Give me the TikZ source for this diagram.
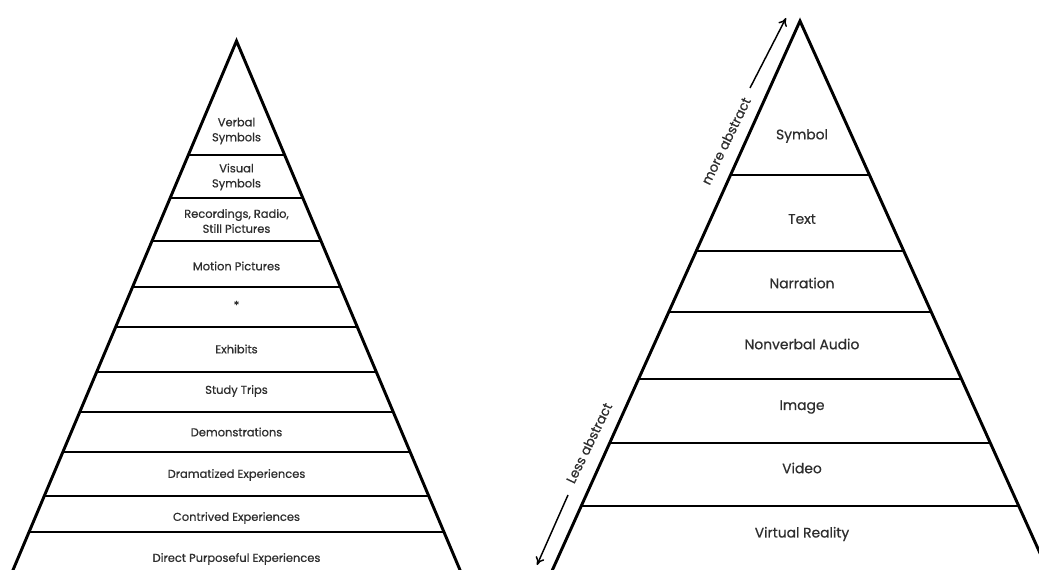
\documentclass[tikz,border=0pt]{standalone}
\usepackage{fontspec}
\setmainfont{Poppins}[FakeBold=0.6]
\usetikzlibrary{arrows.meta}

\definecolor{labelgray}{HTML}{2E2E2E}

\tikzset{
  edge/.style={line width=2.2pt, line join=miter, black},
  tierline/.style={line width=2.2pt, black},
  smalltier/.style={font=\fontsize{8.6}{11.25}\selectfont, text=labelgray, align=center,
                    inner sep=0pt},
  bigtier/.style={font=\fontsize{10.4}{12}\selectfont, text=labelgray, align=center,
                  inner sep=0pt},
  sidelabel/.style={font=\fontsize{9.9}{12}\selectfont, text=labelgray, inner sep=0pt,
                    rotate=64},
  trend/.style={line width=1.1pt, -{To[length=6pt,width=7pt]}},
}

\begin{document}
\begin{tikzpicture}[x=0.75pt,y=-0.75pt]
  \useasboundingbox (0,0) rectangle (1039,570);
  \fill[white] (0,0) rectangle (1039,570);

  % ---------- Dale's cone of experience ----------
  \coordinate (Lapex) at (236.5,41);
  \draw[edge] ({236.5-0.4225*540},581) -- (Lapex) -- ({236.5+0.4225*540},581);
  \foreach \y in {155,198,241,287,327,372,412,452,496,532}
    \draw[tierline] ({236.5-0.4225*(\y-41)},\y) -- ({236.5+0.4225*(\y-41)},\y);

  \node[smalltier] (verbal)   at (236.5,131) {Verbal\\Symbols};
  \node[smalltier] (visual)   at (236.5,177) {Visual\\Symbols};
  \node[smalltier] (record)   at (236.5,221) {Recordings, Radio,\\Still Pictures};
  \node[smalltier] (motion)   at (236.5,266) {Motion Pictures};
  \node[smalltier] (star)     at (236.5,305) {*};
  \node[smalltier] (exhibit)  at (236.5,349) {Exhibits};
  \node[smalltier] (trips)    at (236.5,391) {Study Trips};
  \node[smalltier] (demo)     at (236.5,432) {Demonstrations};
  \node[smalltier] (drama)    at (236.5,475) {Dramatized Experiences};
  \node[smalltier] (contrive) at (236.5,518) {Contrived Experiences};
  \node[smalltier] (direct)   at (236.5,559) {Direct Purposeful Experiences};

  % ---------- media pyramid ----------
  \coordinate (Rapex) at (800,21);
  \draw[edge] ({800-0.451*560},581) -- (Rapex) -- ({800+0.451*560},581);
  \foreach \y in {175,251,312,379,443,506}
    \draw[tierline] ({800-0.451*(\y-21)},\y) -- ({800+0.451*(\y-21)},\y);

  \node[bigtier] (symbol)    at (802,136) {Symbol};
  \node[bigtier] (text)      at (802,219) {Text};
  \node[bigtier] (narration) at (802,283) {Narration};
  \node[bigtier] (audio)     at (802,344) {Nonverbal Audio};
  \node[bigtier] (image)     at (802,407) {Image};
  \node[bigtier] (video)     at (802,468) {Video};
  \node[bigtier] (vr)        at (802,534) {Virtual Reality};

  % abstraction arrows along the left flank
  \node[sidelabel] (more) at (726,141) {more abstract};
  \coordinate (moreA) at (750,88);
  \coordinate (moreB) at (786,18);
  \draw[trend] (moreA) -- (moreB);

  \node[sidelabel] (less) at (589,443) {Less abstract};
  \coordinate (lessA) at (568,495);
  \coordinate (lessB) at (537,565);
  \draw[trend] (lessA) -- (lessB);
\end{tikzpicture}
\end{document}
